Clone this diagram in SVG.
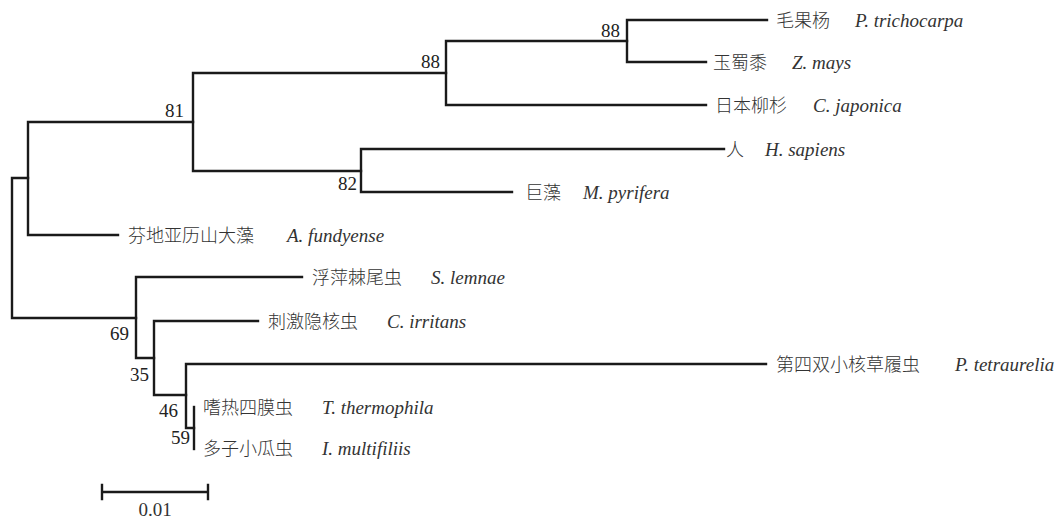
<svg xmlns="http://www.w3.org/2000/svg" width="1063" height="521" viewBox="0 0 1063 521">
<style>
.br{fill:none;stroke:#1a1a1a;stroke-width:2.4;stroke-linecap:square}
.t{font-family:'Liberation Serif',serif;font-size:19px;fill:#333}
.cn{font-family:'Noto Sans CJK SC',sans-serif;font-size:18px;fill:#333;font-weight:300}
.it{font-style:italic}
.bs{font-family:'Liberation Serif',serif;font-size:19px;fill:#222;text-anchor:end}
</style>
<rect width="1063" height="521" fill="#fff"/>
<g id="connectors">
<path class="br" d="M12 178V318M12 178H28M12 318H136"/>
<path class="br" d="M28 122V235M28 122H193M28 235H118"/>
<path class="br" d="M193 73V171M193 73H446M193 171H361"/>
<path class="br" d="M446 41V105M446 41H627M446 105H706"/>
<path class="br" d="M627 20V62M627 20H767M627 62H706"/>
<path class="br" d="M361 149V192M361 149H724M361 192H512"/>
<path class="br" d="M136 277V358M136 277H302M136 358H154"/>
<path class="br" d="M154 321V395M154 321H258M154 395H186"/>
<path class="br" d="M186 364V428M186 364H766M186 428H194"/>
<path class="br" d="M194 407V449"/>
</g>
<g id="node-81"><text class="bs" font-family="Liberation Serif" x="184" y="117">81</text></g>
<g id="node-88a"><text class="bs" font-family="Liberation Serif" x="440" y="68">88</text></g>
<g id="node-88b"><text class="bs" font-family="Liberation Serif" x="620" y="37">88</text></g>
<g id="node-82"><text class="bs" font-family="Liberation Serif" x="357" y="190">82</text></g>
<g id="node-69"><text class="bs" font-family="Liberation Serif" x="129" y="340">69</text></g>
<g id="node-35"><text class="bs" font-family="Liberation Serif" x="149" y="381">35</text></g>
<g id="node-46"><text class="bs" font-family="Liberation Serif" x="178" y="417">46</text></g>
<g id="node-59"><text class="bs" font-family="Liberation Serif" x="190" y="444">59</text></g>
<g id="leaf-ptrichocarpa"><text class="cn" x="776" y="27">毛果杨</text><text class="t it" x="855" y="27">P. trichocarpa</text></g>
<g id="leaf-zmays"><text class="cn" x="713" y="69">玉蜀黍</text><text class="t it" x="792" y="69">Z. mays</text></g>
<g id="leaf-cjaponica"><text class="cn" x="715" y="112">日本柳杉</text><text class="t it" x="813" y="112">C. japonica</text></g>
<g id="leaf-hsapiens"><text class="cn" x="726" y="156">人</text><text class="t it" x="765" y="156">H. sapiens</text></g>
<g id="leaf-mpyrifera"><text class="cn" x="525" y="199">巨藻</text><text class="t it" x="583" y="199">M. pyrifera</text></g>
<g id="leaf-afundyense"><text class="cn" x="128" y="242">芬地亚历山大藻</text><text class="t it" x="287" y="242">A. fundyense</text></g>
<g id="leaf-slemnae"><text class="cn" x="312" y="284">浮萍棘尾虫</text><text class="t it" x="431" y="284">S. lemnae</text></g>
<g id="leaf-cirritans"><text class="cn" x="268" y="328">刺激隐核虫</text><text class="t it" x="387" y="328">C. irritans</text></g>
<g id="leaf-ptetraurelia"><text class="cn" x="776" y="371">第四双小核草履虫</text><text class="t it" x="955" y="371">P. tetraurelia</text></g>
<g id="leaf-tthermophila"><text class="cn" x="203" y="414">嗜热四膜虫</text><text class="t it" x="322" y="414">T. thermophila</text></g>
<g id="leaf-imultifiliis"><text class="cn" x="203" y="455">多子小瓜虫</text><text class="t it" x="322" y="455">I. multifiliis</text></g>
<g id="scale-bar">
<path class="br" d="M102 492H208M102 485V499M208 485V499"/>
<text class="t" x="155" y="516" text-anchor="middle">0.01</text>
</g>
</svg>
